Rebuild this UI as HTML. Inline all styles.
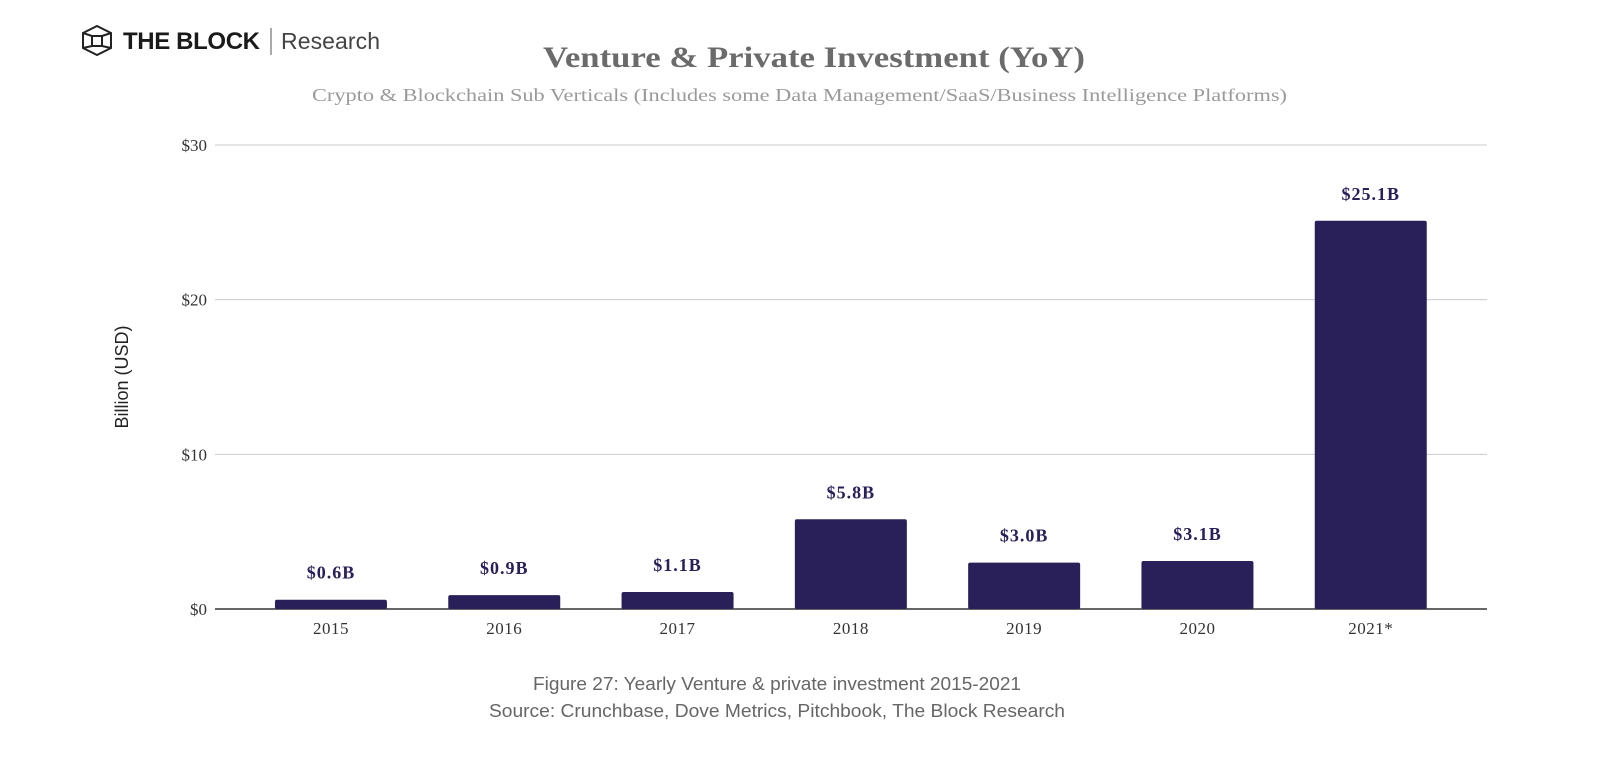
<!DOCTYPE html>
<html><head><meta charset="utf-8"><style>
body{margin:0;background:#fff;width:1600px;height:753px;overflow:hidden;font-family:"Liberation Serif",serif}
</style></head><body>
<svg width="1600" height="753" xmlns="http://www.w3.org/2000/svg">
<g>
<g fill="none" stroke="#222" stroke-width="2">
<polygon points="97,26 111,33 111,48 97,55 83,48 83,33"/>
<rect x="92" y="36" width="10" height="10"/>
<line x1="83" y1="33" x2="92" y2="36"/><line x1="111" y1="33" x2="102" y2="36"/>
<line x1="83" y1="48" x2="92" y2="46"/><line x1="111" y1="48" x2="102" y2="46"/>
</g>
<text x="123" y="49" font-family="Liberation Sans" font-weight="bold" font-size="24" fill="#1a1a1a" textLength="137">THE BLOCK</text>
<line x1="271" y1="28" x2="271" y2="55" stroke="#555" stroke-width="1"/>
<text x="281" y="49" font-family="Liberation Sans" font-size="23" fill="#444" textLength="99">Research</text>
</g>
<text x="543" y="67" textLength="542" lengthAdjust="spacingAndGlyphs" font-size="30" font-weight="bold" fill="#6b6b6b">Venture &amp; Private Investment (YoY)</text>
<text x="312" y="101" textLength="975" lengthAdjust="spacingAndGlyphs" font-size="18" fill="#9a9a9a">Crypto &amp; Blockchain Sub Verticals (Includes some Data Management/SaaS/Business Intelligence Platforms)</text>
<text transform="translate(128,377) rotate(-90)" text-anchor="middle" font-family="Liberation Sans" font-size="18" fill="#222">Billion (USD)</text>
<g id="grid"></g><g id="bars"></g>
<text x="533" y="690" textLength="488" lengthAdjust="spacingAndGlyphs" font-family="Liberation Sans" font-size="18" fill="#666">Figure 27: Yearly Venture &amp; private investment 2015-2021</text>
<text x="489" y="717" textLength="576" lengthAdjust="spacingAndGlyphs" font-family="Liberation Sans" font-size="18" fill="#666">Source:  Crunchbase, Dove Metrics, Pitchbook, The Block Research</text>
</svg>
<script>
const categories=["2015","2016","2017","2018","2019","2020","2021*"];
const values=[0.6,0.9,1.1,5.8,3.0,3.1,25.1];
const valueLabels=["$0.6B","$0.9B","$1.1B","$5.8B","$3.0B","$3.1B","$25.1B"];
const yTicks=[0,10,20,30];
const yTickLabels=["$0","$10","$20","$30"];
const NS="http://www.w3.org/2000/svg";
const y=v=>609-v*(464/30);
const x0=244.3,band=173.3,bw=112;
const xc=i=>x0+band*(i+0.5);
const grid=document.getElementById('grid'),bars=document.getElementById('bars');
function mk(tag,attrs,parent){const e=document.createElementNS(NS,tag);for(const k in attrs)e.setAttribute(k,attrs[k]);parent.appendChild(e);return e;}
yTicks.forEach((t,i)=>{
 const l=mk('line',{x1:215,x2:1487,y1:y(t),y2:y(t),stroke:t===0?'#333':'#ccc','stroke-width':t===0?1.5:1},grid);
 
 
 const tx=mk('text',{x:207,y:y(t)+6,'text-anchor':'end','font-size':17,fill:'#333'},grid);
 tx.textContent=yTickLabels[i];
 
 
});
values.forEach((v,i)=>{
 const r=mk('rect',{x:xc(i)-bw/2,y:y(v),width:bw,height:609-y(v),fill:'#2a2059',rx:2},bars);
 
 
 const t=mk('text',{x:xc(i),y:y(v)-21,'text-anchor':'middle','font-size':18,'font-weight':'bold',fill:'#2a2059','letter-spacing':1},bars);
 t.textContent=valueLabels[i];
 
 
 const c=mk('text',{x:xc(i),y:634,'text-anchor':'middle','font-size':17,fill:'#333','letter-spacing':0.5},bars);
 c.textContent=categories[i];
 
 
});
</script>
</body></html>
